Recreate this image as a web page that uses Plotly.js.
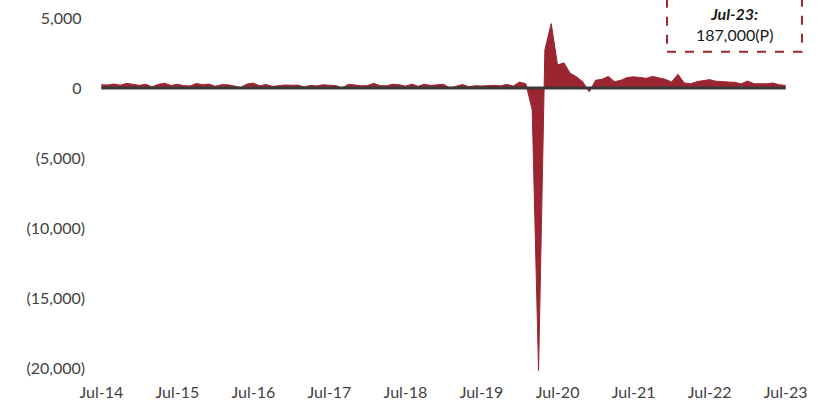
<!DOCTYPE html>
<html>
<head>
<meta charset="utf-8">
<script src="https://cdn.plot.ly/plotly-3.0.1.min.js"></script>
<style>
  html, body { margin: 0; padding: 0; background: #ffffff; }
  #chart { width: 825px; height: 407px; }
</style>
</head>
<body>
<div id="chart"></div>
<script>
// Monthly change in nonfarm payrolls (thousands), Jul-2014 .. Jul-2023
const startYear = 2014, startMonth = 6; // July (0-based)
const values2014 = [232, 218, 286, 200, 331, 269];
const values2015 = [189, 267, 82, 261, 339, 174, 272, 167, 145, 326, 233, 278];
const values2016 = [124, 237, 225, 143, 33, 285, 345, 158, 248, 116, 162, 216];
const values2017 = [197, 209, 70, 193, 150, 230, 196, 170, 6, 264, 219, 156];
const values2018 = [176, 329, 164, 152, 270, 236, 130, 280, 120, 273, 183, 225];
const values2019 = [269, 1, 142, 252, 87, 165, 143, 176, 193, 156, 261, 135];
const values2020 = [420, 300, -1560, -20180, 2725, 4600, 1640, 1800, 1050, 800, 430, -280];
const values2021 = [550, 620, 830, 450, 550, 750, 800, 750, 690, 830, 720, 620];
const values2022 = [430, 980, 360, 300, 450, 500, 600, 480, 450, 420, 400, 300];
const values2023 = [500, 310, 300, 300, 360, 230, 187];

const yTickVals = [5000, 0, -5000, -10000, -15000, -20000];
const yTickText = ["5,000\u2008", "0\u2008", "(5,000)", "(10,000)", "(15,000)", "(20,000)"];
const xTickLabels = ["Jul-14","Jul-15","Jul-16","Jul-17","Jul-18","Jul-19","Jul-20","Jul-21","Jul-22","Jul-23"];
const calloutLabel = "Jul-23:";

const values = [].concat(values2014, values2015, values2016, values2017, values2018,
                         values2019, values2020, values2021, values2022, values2023);
const monthNames = ["Jan","Feb","Mar","Apr","May","Jun","Jul","Aug","Sep","Oct","Nov","Dec"];
const months = values.map((_, i) => {
  const m = (startMonth + i) % 12;
  const y = startYear + Math.floor((startMonth + i) / 12);
  return monthNames[m] + "-" + String(y).slice(2);
});

const red = "#9b2530";
const textColor = "#3f3f3f";
const fontFam = "Lato, 'Open Sans', sans-serif";

const lastVal = values[values.length - 1];
const calloutValue = (lastVal * 1000).toLocaleString("en-US") + "(P)";

const trace = {
  type: "scatter",
  mode: "lines",
  x: months,
  y: values,
  fill: "tozeroy",
  fillcolor: red,
  line: { color: red, width: 1 },
  hoverinfo: "skip"
};

const layout = {
  width: 825,
  height: 407,
  margin: { l: 95, r: 33, t: 11, b: 32 },
  paper_bgcolor: "#ffffff",
  plot_bgcolor: "#ffffff",
  showlegend: false,
  font: { family: fontFam, color: textColor, size: 16 },
  xaxis: {
    type: "category",
    range: [-1, months.length],
    showgrid: false,
    zeroline: false,
    showline: false,
    ticks: "",
    tickmode: "array",
    tickvals: xTickLabels,
    ticktext: xTickLabels,
    tickfont: { family: fontFam, size: 16, color: textColor },
    ticklabelstandoff: 6
  },
  yaxis: {
    range: [-20500, 5500],
    showgrid: false,
    zeroline: false,
    showline: false,
    ticks: "",
    tickmode: "array",
    tickvals: yTickVals,
    ticktext: yTickText,
    tickfont: { family: fontFam, size: 16, color: textColor },
    ticklabelstandoff: 9
  },
  shapes: [
    {
      type: "line", xref: "x", yref: "y", layer: "above",
      x0: 0, x1: months.length - 1, y0: 0, y1: 0,
      line: { color: "#3a3a3a", width: 3 }
    },
    {
      type: "rect", xref: "paper", yref: "paper", layer: "above",
      x0: 0.8207, x1: 1.0143, y0: 0.888, y1: 1.06,
      fillcolor: "#ffffff",
      line: { color: red, width: 2, dash: "dash" }
    }
  ],
  annotations: [
    {
      xref: "paper", yref: "paper",
      x: 0.918, y: 0.965,
      xanchor: "center", yanchor: "middle",
      showarrow: false,
      align: "center",
      text: "<b><i>" + calloutLabel + "</i></b><br>" + calloutValue,
      font: { family: fontFam, size: 16, color: "#1a1a1a" }
    }
  ]
};

Plotly.newPlot("chart", [trace], layout, { displayModeBar: false, staticPlot: true });
</script>
</body>
</html>
